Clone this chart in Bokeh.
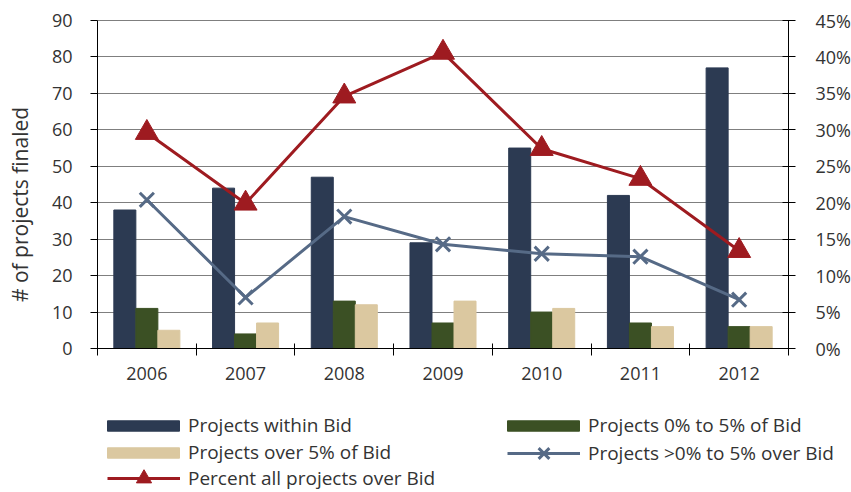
import numpy as np
from bokeh.plotting import figure
from bokeh.models import (Range1d, LinearAxis, FixedTicker, NumeralTickFormatter,
                          Legend, LegendItem, ColumnDataSource, Label)
from bokeh.embed import file_html
from bokeh.resources import INLINE

# ---- data ----
years = ["2006", "2007", "2008", "2009", "2010", "2011", "2012"]
within_bid = [38, 44, 47, 29, 55, 42, 77]
zero_to_five = [11, 4, 13, 7, 10, 7, 6]
over_five = [5, 7, 12, 13, 11, 6, 6]
pct_zero_to_five_over = [0.204, 0.070, 0.181, 0.143, 0.130, 0.126, 0.067]
pct_all_over = [0.296, 0.199, 0.346, 0.406, 0.274, 0.233, 0.134]
left_ticks = [0, 10, 20, 30, 40, 50, 60, 70, 80, 90]
right_ticks = [0.0, 0.05, 0.10, 0.15, 0.20, 0.25, 0.30, 0.35, 0.40, 0.45]

NAVY = "#2c3a52"
GREEN = "#3b5024"
TAN = "#dbc8a0"
RED = "#9e1b20"
SLATE = "#566a86"
TXT = "#333333"
FONT = "Open Sans"

# ---- layout geometry (pixels) ----
W, H = 851, 492
PX_L, PX_R, PX_T, PX_B = 97, 788, 20, 348   # chart box inside the canvas

n = len(years)
xc = np.arange(n)
bw = 0.223
x0, x1 = -0.5, n - 0.5
y0, y1 = 0, 90
p0, p1 = 0.0, 0.45

sx = (PX_R - PX_L) / (x1 - x0)
sy = (PX_B - PX_T) / (y1 - y0)
xr = Range1d(x0 - PX_L / sx, x1 + (W - PX_R) / sx)
yr = Range1d(y0 - (H - PX_B) / sy, y1 + PX_T / sy)
k = (p1 - p0) / (y1 - y0)
pr = Range1d(yr.start * k, yr.end * k)

src = ColumnDataSource(dict(
    x=xc, x_l=xc - bw, x_r=xc + bw,
    within=within_bid, zero5=zero_to_five, over5=over_five,
    p05=pct_zero_to_five_over, pall=pct_all_over,
))

p = figure(width=W, height=H, x_range=xr, y_range=yr, output_backend="svg",
           toolbar_location=None, min_border=0)
p.extra_y_ranges = {"pct": pr}
p.outline_line_color = None
p.background_fill_color = "white"
p.border_fill_color = "white"

# grid
p.xgrid.grid_line_color = None
p.ygrid.ticker = FixedTicker(ticks=left_ticks)
p.ygrid.bounds = (y0, y1)
p.ygrid.cross_bounds = (x0, x1)
p.ygrid.grid_line_color = "#7f7f7f"
p.ygrid.grid_line_width = 1

# left axis
ya = p.yaxis[0]
ya.fixed_location = x0
ya.bounds = (y0, y1)
ya.ticker = FixedTicker(ticks=left_ticks)
ya.major_tick_out = 7
ya.major_tick_in = 0
ya.minor_tick_line_color = None
ya.axis_line_color = "black"
ya.major_tick_line_color = "black"
ya.major_label_standoff = 18
ya.major_label_text_font = FONT
ya.major_label_text_font_size = "18px"
ya.major_label_text_color = TXT

# y axis title (placed where the original sits, slightly below the axis centre)
p.add_layout(Label(x=19, y=H - 204, x_units="screen", y_units="screen",
                   text="# of projects finaled", angle=np.pi / 2,
                   text_align="center", text_baseline="middle",
                   text_font=FONT, text_font_size="21px", text_color=TXT))

# bottom axis
xa = p.xaxis[0]
xa.fixed_location = y0
xa.bounds = (x0, x1)
xa.ticker = FixedTicker(ticks=list(xc), minor_ticks=[i - 0.5 for i in range(n + 1)])
xa.major_label_overrides = {int(i): y for i, y in zip(xc, years)}
xa.major_tick_line_color = None
xa.major_tick_out = 7
xa.major_tick_in = 0
xa.minor_tick_in = 5
xa.minor_tick_out = 7
xa.minor_tick_line_color = "black"
xa.axis_line_color = "black"
xa.major_label_standoff = 11
xa.major_label_text_font = FONT
xa.major_label_text_font_size = "18px"
xa.major_label_text_color = TXT

# right axis
ra = LinearAxis(y_range_name="pct", ticker=FixedTicker(ticks=right_ticks),
                formatter=NumeralTickFormatter(format="0%"),
                fixed_location=x1, bounds=(p0, p1))
ra.major_tick_in = 6
ra.major_tick_out = 7
ra.minor_tick_line_color = None
ra.axis_line_color = "black"
ra.major_label_standoff = 20
ra.major_label_text_font = FONT
ra.major_label_text_font_size = "18px"
ra.major_label_text_color = TXT
p.add_layout(ra, "right")

# bars
r_within = p.vbar(x="x_l", top="within", width=bw, source=src, fill_color=NAVY, line_color=NAVY)
r_zero5 = p.vbar(x="x", top="zero5", width=bw, source=src, fill_color=GREEN, line_color=GREEN)
r_over5 = p.vbar(x="x_r", top="over5", width=bw, source=src, fill_color=TAN, line_color=TAN)

# lines
l_p05 = p.line(x="x", y="p05", source=src, y_range_name="pct", line_color=SLATE, line_width=3)
m_p05 = p.scatter(x="x", y="p05", source=src, y_range_name="pct", marker="x",
                  size=20, line_color=SLATE, line_width=3)
l_pall = p.line(x="x", y="pall", source=src, y_range_name="pct", line_color=RED, line_width=3)
m_pall = p.scatter(x="x", y="pall", source=src, y_range_name="pct",
                   marker="triangle", size=23, fill_color=RED, line_color=RED)


def add_legend(label, renderers, loc, gw, gh, standoff):
    lg = Legend(items=[LegendItem(label=label, renderers=renderers)],
                location=loc, glyph_width=gw, glyph_height=gh, label_height=gh,
                label_standoff=standoff, padding=0, margin=0, spacing=0,
                border_line_color=None, background_fill_alpha=0,
                label_text_font=FONT, label_text_font_size="19px",
                label_text_color=TXT)
    p.add_layout(lg, "center")


add_legend("Projects within Bid", [r_within], (98, 54), 90, 13, 0)
add_legend("Projects 0% to 5% of Bid", [r_zero5], (498, 54), 90, 13, 0)
add_legend("Projects over 5% of Bid", [r_over5], (98, 27), 90, 13, 0)
add_legend("Projects >0% to 5% over Bid", [l_p05, m_p05], (507, 20), 73, 38, 8)
add_legend("Percent all projects over Bid", [l_pall, m_pall], (107, -5), 73, 38, 8)

open("out.html", "w").write(file_html(p, INLINE))
